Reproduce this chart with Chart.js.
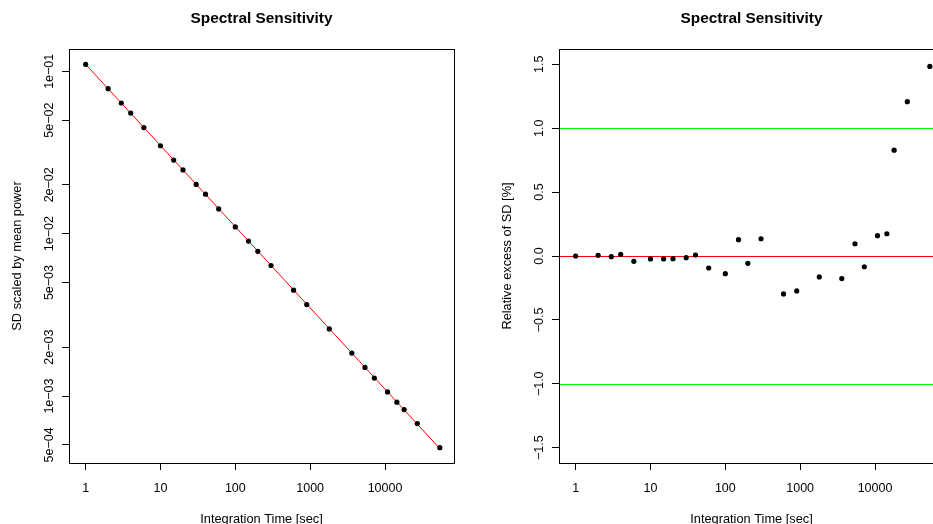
<!DOCTYPE html>
<html>
<head>
<meta charset="utf-8">
<title>Spectral Sensitivity</title>
<script src="https://cdn.jsdelivr.net/npm/chart.js@4.4.1/dist/chart.umd.min.js"></script>
<style>
    html, body { margin: 0; padding: 0; background: #fff; overflow: hidden; }
    body { width: 933px; height: 524px; position: relative; }
    .panel { position: absolute; top: 0; width: 490px; height: 524px; }
</style>
</head>
<body>
<div class="panel" style="left:0"><canvas id="sdChart" width="490" height="524"></canvas></div>
<div class="panel" style="left:490px"><canvas id="excessChart" width="490" height="524"></canvas></div>
<script>
// --- Data ---
const tau = [1, 2, 3, 4, 6, 10, 15, 20, 30, 40, 60, 100, 150, 200, 300, 600, 900,
    1800, 3600, 5400, 7200, 10800, 14400, 18000, 27000, 54000];
const sdScaled = [0.1104, 0.0782, 0.0638, 0.0553, 0.0450, 0.0348, 0.0284, 0.0247, 0.0201,
    0.0175, 0.0142, 0.0110, 0.00901, 0.00779, 0.00637, 0.00449, 0.00366, 0.00259, 0.00184,
    0.00150, 0.00129, 0.00106, 0.000917, 0.000826, 0.000677, 0.000481];
const fitTau = [1, 54000];
const fitSd = [0.1104, 0.000475];
const excessPct = [0.0, 0.005, -0.005, 0.013, -0.042, -0.023, -0.023, -0.021, -0.013, 0.008,
    -0.094, -0.138, 0.128, -0.057, 0.135, -0.297, -0.273, -0.164, -0.177, 0.096, -0.084,
    0.159, 0.174, 0.828, 1.208, 1.484];
const excessLimits = [-1.5, 1.5];
const refLevels = [0, 1, -1];
const refColors = ['#ff0000', '#00ff00', '#00ff00'];

const xTicks = [1, 10, 100, 1000, 10000];
const xTickLabels = ['1', '10', '100', '1000', '10000'];
const sdTicks = [0.1, 0.05, 0.02, 0.01, 0.005, 0.002, 0.001, 0.0005];
const sdTickLabels = ['1e\u221201', '5e\u221202', '2e\u221202', '1e\u221202', '5e\u221203', '2e\u221203', '1e\u221203', '5e\u221204'];
const excessTicks = [-1.5, -1, -0.5, 0, 0.5, 1, 1.5];
const excessTickLabels = ['\u22121.5', '\u22121.0', '\u22120.5', '0.0', '0.5', '1.0', '1.5'];

const FONT = '"Liberation Sans", Arial, Helvetica, sans-serif';

// R pads axis ranges by 4% on each side
function padLog(vals) {
    const lo = Math.log10(Math.min(...vals)), hi = Math.log10(Math.max(...vals));
    const d = (hi - lo) * 0.04;
    return { min: Math.pow(10, lo - d), max: Math.pow(10, hi + d) };
}
function padLin(lo, hi) {
    const d = (hi - lo) * 0.04;
    return { min: lo - d, max: hi + d };
}

// box, labels, titles and reference lines in R base-graphics style
function rFrame(cfg) {
    return {
        id: 'rFrame',
        beforeDatasetsDraw(chart) {
            const { ctx, chartArea: a, scales: { y } } = chart;
            (cfg.refLevels || []).forEach((v, i) => {
                const py = Math.round(y.getPixelForValue(v)) + 0.5;
                ctx.save();
                ctx.strokeStyle = cfg.refColors[i];
                ctx.lineWidth = 1;
                ctx.beginPath();
                ctx.moveTo(a.left, py);
                ctx.lineTo(a.right, py);
                ctx.stroke();
                ctx.restore();
            });
        },
        afterDraw(chart) {
            const { ctx, chartArea: a, scales: { x, y } } = chart;
            const cx = (a.left + a.right) / 2, cy = (a.top + a.bottom) / 2;
            ctx.save();
            ctx.strokeStyle = '#000';
            ctx.lineWidth = 1;
            ctx.strokeRect(a.left + 0.5, a.top + 0.5, a.right - a.left, a.bottom - a.top);

            ctx.fillStyle = '#000';
            ctx.font = '12.5px ' + FONT;
            ctx.textAlign = 'center';
            ctx.textBaseline = 'alphabetic';
            cfg.xTicks.forEach((v, i) => {
                ctx.fillText(cfg.xLabels[i], x.getPixelForValue(v), a.bottom + 28.5);
            });
            cfg.yTicks.forEach((v, i) => {
                ctx.save();
                ctx.translate(a.left - 16.5, y.getPixelForValue(v));
                ctx.rotate(-Math.PI / 2);
                ctx.fillText(cfg.yLabels[i], 0, 0);
                ctx.restore();
            });

            ctx.font = '12.8px ' + FONT;
            ctx.fillText(cfg.xTitle, cx, a.bottom + 59.5);
            ctx.save();
            ctx.translate(a.left - 48.5, cy);
            ctx.rotate(-Math.PI / 2);
            ctx.fillText(cfg.yTitle, 0, 0);
            ctx.restore();

            ctx.font = 'bold 15.4px ' + FONT;
            ctx.fillText(cfg.title, cx, a.top - 26.3);
            ctx.restore();
        }
    };
}

function axisOpts(type, range, ticks) {
    return {
        type: type,
        min: range.min,
        max: range.max,
        afterBuildTicks: scale => { scale.ticks = ticks.map(v => ({ value: v })); },
        ticks: { display: false },
        grid: { drawOnChartArea: false, drawTicks: true, tickLength: 7, color: '#000', lineWidth: 1 },
        border: { display: false }
    };
}

const xRange = padLog(tau);
const baseOptions = {
    responsive: false,
    animation: false,
    layout: { padding: { top: 49, right: 36, left: 0, bottom: 0 } },
    plugins: { legend: { display: false }, tooltip: { enabled: false }, title: { display: false } }
};

document.addEventListener('DOMContentLoaded', () => {

    // 1. SD scaled by mean power (log-log)
    new Chart(document.getElementById('sdChart').getContext('2d'), {
        type: 'scatter',
        data: {
            datasets: [{
                data: tau.map((t, i) => ({ x: t, y: sdScaled[i] })),
                pointRadius: 2.6,
                pointBackgroundColor: '#000',
                pointBorderWidth: 0,
                showLine: false
            }, {
                data: fitTau.map((t, i) => ({ x: t, y: fitSd[i] })),
                showLine: true,
                borderColor: '#ff0000',
                borderWidth: 1,
                pointRadius: 0
            }]
        },
        options: Object.assign({}, baseOptions, {
            scales: {
                x: Object.assign(axisOpts('logarithmic', xRange, xTicks), { afterFit: s => { s.height = 61; } }),
                y: Object.assign(axisOpts('logarithmic', padLog(sdScaled), sdTicks), { afterFit: s => { s.width = 69; } })
            }
        }),
        plugins: [rFrame({
            title: 'Spectral Sensitivity',
            xTitle: 'Integration Time [sec]',
            yTitle: 'SD scaled by mean power',
            xTicks: xTicks, xLabels: xTickLabels,
            yTicks: sdTicks, yLabels: sdTickLabels
        })]
    });

    // 2. Relative excess of SD
    new Chart(document.getElementById('excessChart').getContext('2d'), {
        type: 'scatter',
        data: {
            datasets: [{
                data: tau.map((t, i) => ({ x: t, y: excessPct[i] })),
                pointRadius: 2.6,
                pointBackgroundColor: '#000',
                pointBorderWidth: 0,
                showLine: false
            }]
        },
        options: Object.assign({}, baseOptions, {
            scales: {
                x: Object.assign(axisOpts('logarithmic', xRange, xTicks), { afterFit: s => { s.height = 61; } }),
                y: Object.assign(axisOpts('linear', padLin(excessLimits[0], excessLimits[1]), excessTicks), { afterFit: s => { s.width = 69; } })
            }
        }),
        plugins: [rFrame({
            title: 'Spectral Sensitivity',
            xTitle: 'Integration Time [sec]',
            yTitle: 'Relative excess of SD [%]',
            xTicks: xTicks, xLabels: xTickLabels,
            yTicks: excessTicks, yLabels: excessTickLabels,
            refLevels: refLevels, refColors: refColors
        })]
    });
});
</script>
</body>
</html>
